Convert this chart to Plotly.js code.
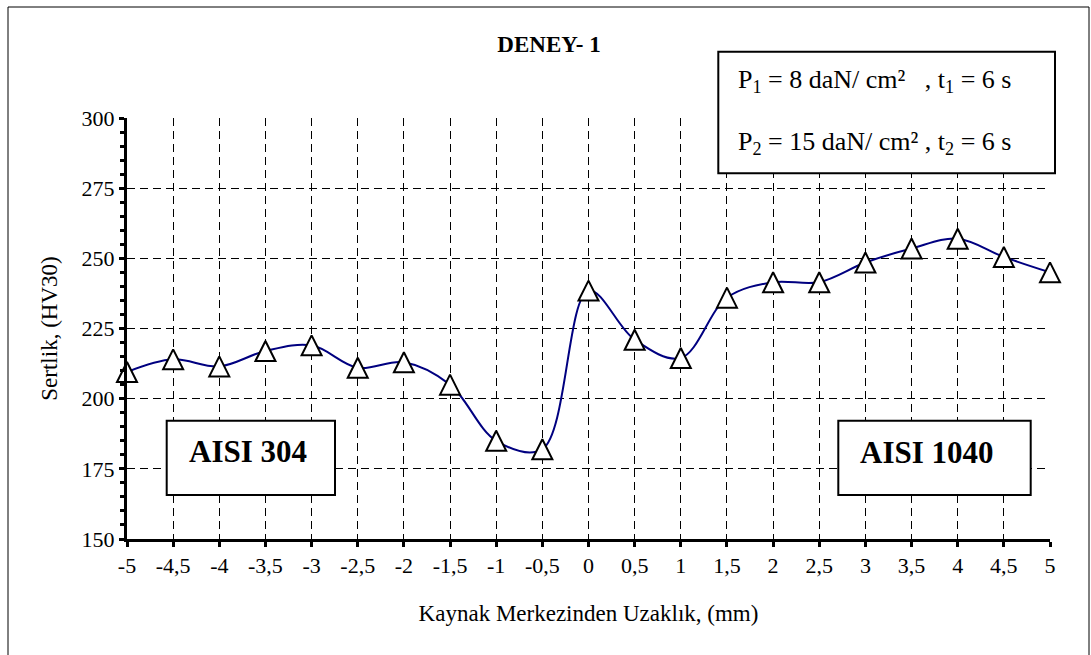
<!DOCTYPE html>
<html>
<head>
<meta charset="utf-8">
<script src="https://cdn.plot.ly/plotly-3.0.1.min.js"></script>
<style>
  html, body { margin: 0; padding: 0; background: #ffffff; }
  #chart { width: 1091px; height: 655px; }
</style>
</head>
<body>
<div id="chart"></div>
<script>
// Distance from weld centre (mm) and Vickers hardness (HV30)
const distance = [-5, -4.5, -4, -3.5, -3, -2.5, -2, -1.5, -1, -0.5, 0, 0.5, 1, 1.5, 2, 2.5, 3, 3.5, 4, 4.5, 5];
const hardness = [209.5, 214, 211.5, 217, 219, 211, 213, 205, 185, 182, 238.5, 221, 214.5, 236, 241.5, 241.5, 248.5, 253.5, 257, 250.5, 245];
const xTickLabels = ['-5', '-4,5', '-4', '-3,5', '-3', '-2,5', '-2', '-1,5', '-1', '-0,5', '0',
                     '0,5', '1', '1,5', '2', '2,5', '3', '3,5', '4', '4,5', '5'];
const yTicks = [150, 175, 200, 225, 250, 275, 300];

const chartTitle = 'DENEY- 1';
const xTitle = 'Kaynak Merkezinden Uzaklık, (mm)';
const yTitle = 'Sertlik, (HV30)';
const leftMaterial = 'AISI 304';
const rightMaterial = 'AISI 1040';
const paramLine1 = 'P<sub>1</sub> = 8 daN/ cm²\u00a0\u00a0\u00a0, t<sub>1</sub> = 6 s';
const paramLine2 = 'P<sub>2</sub> = 15 daN/ cm² , t<sub>2</sub> = 6 s';

// Page geometry (pixels)
const W = 1091, H = 655;
const M = { l: 127, r: 41, t: 118, b: 116 };
const plotW = W - M.l - M.r;
const plotH = H - M.t - M.b;
const px = v => (v - M.l) / plotW;          // pixel x -> paper x
const py = v => (H - M.b - v) / plotH;      // pixel y -> paper y

const FONT = 'Liberation Serif';

const trace = {
  x: distance,
  y: hardness,
  type: 'scatter',
  mode: 'lines+markers',
  cliponaxis: false,
  line: { color: '#000080', width: 2, shape: 'spline', smoothing: 1 },
  marker: { symbol: 'triangle-up', size: 18, color: '#ffffff', line: { color: '#000000', width: 2 } },
  hoverinfo: 'skip'
};

function box(x0, y0, x1, y1, w) {
  return {
    type: 'rect', xref: 'paper', yref: 'paper',
    x0: px(x0), x1: px(x1), y0: py(y1), y1: py(y0),
    line: { color: '#000000', width: w }, fillcolor: '#ffffff', layer: 'above'
  };
}

const layout = {
  width: W, height: H,
  margin: M,
  paper_bgcolor: '#ffffff',
  plot_bgcolor: '#ffffff',
  showlegend: false,
  font: { family: FONT, color: '#000000', size: 22 },
  title: {
    text: '<b>' + chartTitle + '</b>',
    font: { family: FONT, size: 23, color: '#000000' },
    x: 549 / W, xanchor: 'center', xref: 'container',
    y: 1 - 44 / H, yanchor: 'middle', yref: 'container'
  },
  xaxis: {
    range: [-5, 5],
    tickmode: 'array', tickvals: distance, ticktext: xTickLabels,
    tickfont: { family: FONT, size: 22, color: '#000000' },
    ticks: 'outside', ticklen: 5, tickwidth: 3, tickcolor: '#000000',
    showline: true, linewidth: 3, linecolor: '#000000',
    showgrid: true, gridcolor: '#000000', gridwidth: 1, griddash: '8px,5px',
    zeroline: false, fixedrange: true,
    title: { text: xTitle, font: { family: FONT, size: 23, color: '#000000' }, standoff: 28 }
  },
  yaxis: {
    range: [150, 300],
    tickmode: 'array', tickvals: yTicks, ticktext: yTicks.map(String),
    tickfont: { family: FONT, size: 22, color: '#000000' },
    ticks: 'outside', ticklen: 5, tickwidth: 3, tickcolor: '#000000',
    minor: { dtick: 5, tick0: 150, ticks: 'outside', ticklen: 4, tickwidth: 3, tickcolor: '#000000', showgrid: false },
    showline: true, linewidth: 3, linecolor: '#000000',
    showgrid: true, gridcolor: '#000000', gridwidth: 1, griddash: '8px,5px',
    zeroline: false, fixedrange: true,
    title: { text: yTitle, font: { family: FONT, size: 23, color: '#000000' }, standoff: 18 }
  },
  shapes: [
    // outer chart frame (open at the bottom edge of the page)
    { type: 'rect', xref: 'paper', yref: 'paper', x0: px(8), x1: px(1089), y0: py(662), y1: py(7),
      line: { color: '#000000', width: 1 }, fillcolor: 'rgba(0,0,0,0)', layer: 'above' },
    box(166.7, 420.7, 335, 495, 2),
    box(838.3, 420.7, 1030.7, 495, 2),
    box(718.3, 51.7, 1055, 173.3, 2)
  ],
  annotations: [
    { text: '<b>' + leftMaterial + '</b>', xref: 'paper', yref: 'paper', x: px(247.5), y: py(451),
      xanchor: 'center', yanchor: 'middle', showarrow: false, font: { family: FONT, size: 31, color: '#000000' } },
    { text: '<b>' + rightMaterial + '</b>', xref: 'paper', yref: 'paper', x: px(927), y: py(452),
      xanchor: 'center', yanchor: 'middle', showarrow: false, font: { family: FONT, size: 31, color: '#000000' } },
    { text: paramLine1, xref: 'paper', yref: 'paper', x: px(736), y: py(81),
      xanchor: 'left', yanchor: 'middle', showarrow: false, font: { family: FONT, size: 26, color: '#000000' } },
    { text: paramLine2, xref: 'paper', yref: 'paper', x: px(736), y: py(143),
      xanchor: 'left', yanchor: 'middle', showarrow: false, font: { family: FONT, size: 26, color: '#000000' } }
  ]
};

// Upright isosceles triangle marker, 20 px wide and 20 px tall, centred on the point
const TRIANGLE = 'M-10,10H10L0,-10Z';

Plotly.newPlot('chart', [trace], layout, { staticPlot: true, displayModeBar: false }).then(gd => {
  gd.querySelectorAll('.scatterlayer .trace .points path.point').forEach(p => p.setAttribute('d', TRIANGLE));
});
</script>
</body>
</html>
